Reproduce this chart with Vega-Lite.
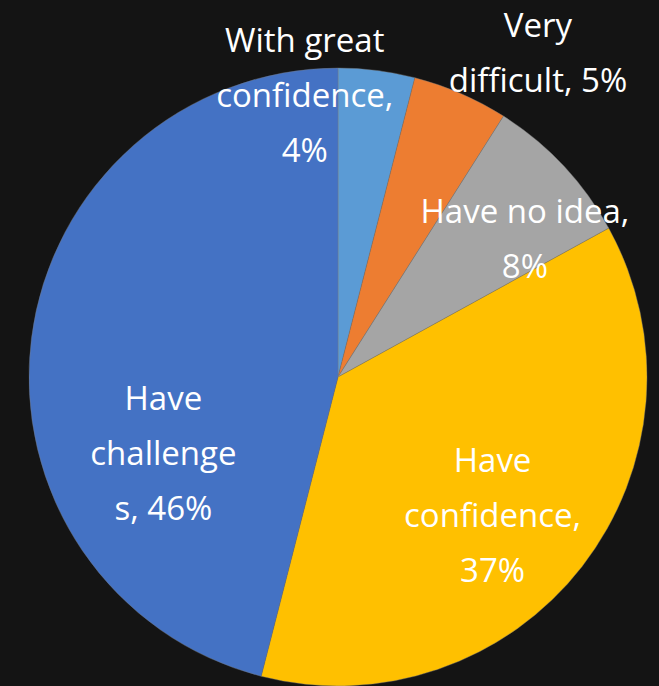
{
  "$schema": "https://vega.github.io/schema/vega-lite/v6.json",
  "width": 659,
  "height": 686,
  "autosize": {"type": "fit", "contains": "padding"},
  "padding": 0,
  "background": "#141414",
  "view": {"stroke": null},
  "config": {"text": {"lineBreak": "\n"}},
  "data": {
    "values": [
      {"cat": "With great confidence", "value": 4, "label": "With great\nconfidence,\n4%"},
      {"cat": "Very difficult", "value": 5, "label": "Very\ndifficult, 5%"},
      {"cat": "Have no idea", "value": 8, "label": "Have no idea,\n8%"},
      {"cat": "Have confidence", "value": 37, "label": "Have\nconfidence,\n37%"},
      {"cat": "Have challenges", "value": 46, "label": "Have\nchallenge\ns, 46%"}
    ]
  },
  "transform": [
    {"window": [{"op": "row_number", "as": "idx"}]},
    {"stack": "value", "groupby": [], "sort": [{"field": "idx"}], "as": ["v0", "v1"]},
    {"calculate": "(datum.v0 + datum.v1) / 2", "as": "vmid"}
  ],
  "layer": [
    {
      "mark": {"type": "arc", "x": 338, "y": 377, "outerRadius": 309, "stroke": "#7a7a7a", "strokeWidth": 0.4},
      "encoding": {
        "theta": {"field": "v0", "type": "quantitative", "scale": {"domain": [0, 100]}, "stack": null},
        "theta2": {"field": "v1"},
        "color": {
          "field": "cat", "type": "nominal", "legend": null,
          "scale": {
            "domain": ["With great confidence", "Very difficult", "Have no idea", "Have confidence", "Have challenges"],
            "range": ["#5B9BD5", "#ED7D31", "#A5A5A5", "#FFC000", "#4472C4"]
          }
        }
      }
    },
    {
      "transform": [{"filter": "datum.cat == 'With great confidence'"}],
      "mark": {"type": "text", "x": 338, "y": 377, "radius": 285, "dx": -69, "dy": -52, "font": "Open Sans", "fontSize": 33, "lineHeight": 55, "lineBreak": "\n", "color": "white", "align": "center", "baseline": "middle"},
      "encoding": {
        "theta": {"field": "vmid", "type": "quantitative", "scale": {"domain": [0, 100]}, "stack": null},
        "text": {"field": "label"}
      }
    },
    {
      "transform": [{"filter": "datum.cat == 'Very difficult'"}],
      "mark": {"type": "text", "x": 338, "y": 377, "radius": 370, "dx": 53, "dy": -10, "font": "Open Sans", "fontSize": 33, "lineHeight": 55, "lineBreak": "\n", "color": "white", "align": "center", "baseline": "middle"},
      "encoding": {
        "theta": {"field": "vmid", "type": "quantitative", "scale": {"domain": [0, 100]}, "stack": null},
        "text": {"field": "label"}
      }
    },
    {
      "transform": [{"filter": "datum.cat == 'Have no idea'"}],
      "mark": {"type": "text", "x": 338, "y": 377, "radius": 240, "dx": 12, "dy": 0, "font": "Open Sans", "fontSize": 33, "lineHeight": 55, "lineBreak": "\n", "color": "white", "align": "center", "baseline": "middle"},
      "encoding": {
        "theta": {"field": "vmid", "type": "quantitative", "scale": {"domain": [0, 100]}, "stack": null},
        "text": {"field": "label"}
      }
    },
    {
      "transform": [{"filter": "datum.cat == 'Have confidence'"}],
      "mark": {"type": "text", "x": 338, "y": 377, "radius": 207, "dx": -9, "dy": -42, "font": "Open Sans", "fontSize": 33, "lineHeight": 55, "lineBreak": "\n", "color": "white", "align": "center", "baseline": "middle"},
      "encoding": {
        "theta": {"field": "vmid", "type": "quantitative", "scale": {"domain": [0, 100]}, "stack": null},
        "text": {"field": "label"}
      }
    },
    {
      "transform": [{"filter": "datum.cat == 'Have challenges'"}],
      "mark": {"type": "text", "x": 338, "y": 377, "radius": 175, "dx": -1, "dy": 45, "font": "Open Sans", "fontSize": 33, "lineHeight": 55, "lineBreak": "\n", "color": "white", "align": "center", "baseline": "middle"},
      "encoding": {
        "theta": {"field": "vmid", "type": "quantitative", "scale": {"domain": [0, 100]}, "stack": null},
        "text": {"field": "label"}
      }
    }
  ]
}
